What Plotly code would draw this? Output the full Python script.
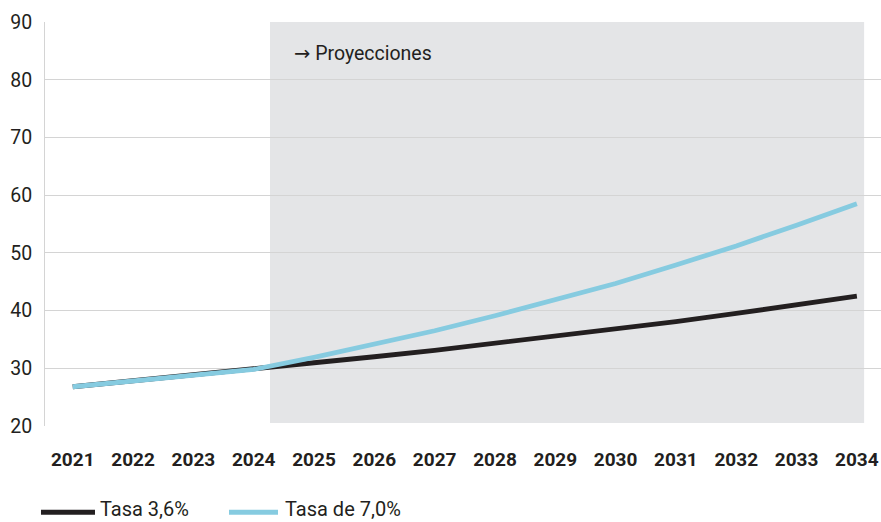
import plotly.graph_objects as go

# Years on the horizontal axis
years = [2021, 2022, 2023, 2024, 2025, 2026, 2027, 2028, 2029, 2030, 2031, 2032, 2033, 2034]

# Series values
tasa_36 = [26.8, 27.8, 28.8, 29.8, 30.9, 32.0, 33.1, 34.3, 35.5, 36.8, 38.1, 39.5, 40.9, 42.5]
tasa_70 = [26.8, 27.8, 28.8, 29.8, 31.9, 34.1, 36.5, 39.1, 41.8, 44.7, 47.9, 51.2, 54.8, 58.5]

series_names = ["Tasa 3,6%", "Tasa de 7,0%"]
series_colors = ["#231f20", "#86cbe0"]
y_ticks = [20, 30, 40, 50, 60, 70, 80, 90]

# Projection window (shaded band)
proj_start = 2024.27
proj_end = 2034.12

FONT = "Roboto"
TEXT = "#231f20"

fig = go.Figure()

for name, vals, color in zip(series_names, [tasa_36, tasa_70], series_colors):
    fig.add_trace(go.Scatter(
        x=years, y=vals, mode="lines", name=name,
        line=dict(color=color, width=4.8), showlegend=False,
    ))

fig.add_shape(
    type="rect", xref="x", yref="y",
    x0=proj_start, x1=proj_end, y0=20.5, y1=90,
    fillcolor="#e4e5e7", line=dict(width=0), layer="below",
)

fig.add_annotation(
    x=proj_start, y=84.6, xref="x", yref="y",
    text='<span style="font-family:DejaVu Sans">\u2192</span> Proyecciones',
    showarrow=False,
    xanchor="left", yanchor="middle", xshift=22,
    font=dict(family=FONT, size=19.5, color=TEXT),
)

# Legend row below the axis: a swatch line and a label per series
legend_y = -0.2054
legend_keys = [(-0.0048, 0.0598, 0.0634), (0.2201, 0.2787, 0.2847)]
for (x0, x1, xt), name, color in zip(legend_keys, series_names, series_colors):
    fig.add_shape(
        type="line", xref="paper", yref="paper",
        x0=x0, x1=x1, y0=legend_y - 0.008, y1=legend_y - 0.008,
        line=dict(color=color, width=5),
    )
    fig.add_annotation(
        x=xt, y=legend_y, xref="paper", yref="paper",
        text=name, showarrow=False, xanchor="left", yanchor="middle",
        font=dict(family=FONT, size=20, color=TEXT),
    )

fig.update_layout(
    width=881, height=522,
    margin=dict(l=45, r=0, t=22, b=96),
    paper_bgcolor="white", plot_bgcolor="white",
    font=dict(family=FONT, color=TEXT),
    showlegend=False,
    xaxis=dict(
        range=[2020.54, 2034.4],
        tickmode="array", tickvals=years, ticktext=[str(y) for y in years],
        tickfont=dict(family=FONT, size=19, color=TEXT, weight="bold"),
        showgrid=False, zeroline=False,
        showline=False, ticks="", ticklabelstandoff=20,
    ),
    yaxis=dict(
        range=[20, 90], tickvals=y_ticks,
        tickfont=dict(family=FONT, size=19.5, color=TEXT),
        showgrid=True, gridcolor="#d4d4d4", gridwidth=1,
        zeroline=False, showline=True, linecolor="#d4d4d4", linewidth=1,
        ticks="", ticklabelstandoff=8,
    ),
)

fig.write_html("out.html")
